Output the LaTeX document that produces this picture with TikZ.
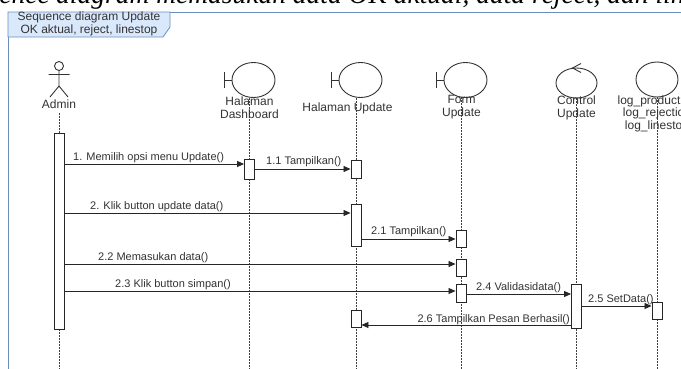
\documentclass[tikz,border=0pt]{standalone}
\usepackage{fontspec}
\setmainfont{Liberation Sans}
\newfontfamily\serifit{Liberation Serif}
\usetikzlibrary{arrows.meta}
\definecolor{framec}{HTML}{6C8EBF}
\definecolor{tabfill}{HTML}{DAE8FC}
\definecolor{txt}{HTML}{333333}
\begin{document}
\begin{tikzpicture}[x=1pt,y=-1pt,
  lbl/.style={font=\fontsize{12}{13}\selectfont, text=txt, align=center, inner sep=0},
  msg/.style={font=\fontsize{11}{12}\selectfont, text=txt, inner sep=0},
  lifeline/.style={draw=black!75, line width=0.9, dash pattern=on 1.5pt off 1.5pt},
  act/.style={draw=black!85, fill=white, line width=0.9, minimum width=10, inner sep=0, rectangle},
  call/.style={draw=black!85, line width=0.8, -{Triangle[length=7,width=6]}},
  shapeline/.style={draw=black!80, line width=0.9},
  captxt/.style={font=\serifit\itshape\fontsize{27.5}{29}\selectfont, inner sep=0}]
\clip (0,0) rectangle (681,368);
\useasboundingbox (0,0) rectangle (681,368);
\fill[white] (0,0) rectangle (681,368);
% clipped document text at top
\node[captxt, anchor=base east] (capA) at (50,3) {Sequence};
\node[captxt, anchor=base west] (capB) at (56,3) {diagram memasukan data OK aktual, data reject, dan linestop};
% frame
\draw[framec, line width=1] (700,12) -- (8,12) -- (8,380);
\draw[framec, fill=tabfill, line width=0.8] (8,12) -- (170,12) -- (170,27) -- (163,37) -- (8,37) -- cycle;
\node[lbl] (title) at (89,24) {Sequence diagram Update\\OK aktual, reject, linestop};
% lifelines
\coordinate (adminTop) at (59,113);
\coordinate (adminBot) at (59,370);
\coordinate (dashTop) at (249.5,98);
\coordinate (dashBot) at (249.5,370);
\coordinate (huTop) at (356,98);
\coordinate (huBot) at (356,370);
\coordinate (formTop) at (461,97);
\coordinate (formBot) at (461,370);
\coordinate (ctrlTop) at (576.5,98);
\coordinate (ctrlBot) at (576.5,370);
\coordinate (logTop) at (657,97);
\coordinate (logBot) at (657,370);
\foreach \a/\b in {adminTop/adminBot,dashTop/dashBot,huTop/huBot,formTop/formBot,ctrlTop/ctrlBot,logTop/logBot}
  \draw[lifeline] (\a) -- (\b);
% actor
\draw[shapeline] (59,66) circle[radius=4.5];
\draw[shapeline] (59,70.5) -- (59,86) (48.5,74.5) -- (69.5,74.5) (50,97) -- (59,86) -- (68,97);
\node[lbl] (admin) at (59,104) {Admin};
% boundaries
\foreach \x in {224,331,436}{
  \draw[shapeline] (\x,72) -- (\x,88) (\x,80) -- (\x+8,80);
  \draw[shapeline] (\x+29.5,80) ellipse[x radius=21.5, y radius=17.5];
}
\node[lbl] (dash) at (249.5,107.5) {Halaman\\Dashboard};
\node[lbl] (hu) at (347.5,108) {Halaman Update};
\node[lbl] (form) at (461.5,107.5) {Form\\Update};
% control
\draw[shapeline] (576.5,83) ellipse[x radius=20.5, y radius=15];
\draw[shapeline] (581,63.5) -- (572.5,68) -- (581,72.5);
\node[lbl] (ctrl) at (576.5,107.5) {Control\\Update};
% entity
\draw[shapeline] (657,79.5) ellipse[x radius=21, y radius=17.5];
\node[lbl, font=\fontsize{12}{12.5}\selectfont] (log) at (657,113.5) {log\_production\\log\_rejection\\log\_linestop};
% activation bars
\node[act, minimum height=196] (a0) at (59,231) {};
\node[act, minimum height=20] (d1) at (249.5,169) {};
\node[act, minimum height=18] (h1) at (356,169) {};
\node[act, minimum height=42] (h2) at (356,225) {};
\node[act, minimum height=17] (h3) at (356,318.5) {};
\node[act, minimum height=17] (f1) at (461,238.5) {};
\node[act, minimum height=17] (f2) at (461,267.5) {};
\node[act, minimum height=18] (f3) at (461,293) {};
\node[act, minimum height=44] (c1) at (576.5,306) {};
\node[act, minimum height=17] (l1) at (657,310.5) {};
% messages
\draw[call] (a0.east |- 0,164) -- (d1.west |- 0,164);
\node[msg, anchor=base west] (m1) at (73,160) {1. Memilih opsi menu Update()};
\draw[call] (d1.east |- 0,169) -- (h1.west |- 0,169);
\node[msg, anchor=base west] (m11) at (266,164) {1.1 Tampilkan()};
\draw[call] (a0.east |- 0,213) -- (h2.west |- 0,213);
\node[msg, anchor=base west] (m2) at (90,209) {2. Klik button update data()};
\draw[call] (h2.east |- 0,239) -- (f1.west |- 0,239);
\node[msg, anchor=base west] (m21) at (371,234) {2.1 Tampilkan()};
\draw[call] (a0.east |- 0,264) -- (f2.west |- 0,264);
\node[msg, anchor=base west] (m22) at (98,260) {2.2 Memasukan data()};
\draw[call] (a0.east |- 0,291) -- (f3.west |- 0,291);
\node[msg, anchor=base west] (m23) at (115,287) {2.3 Klik button simpan()};
\draw[call] (f3.east |- 0,294) -- (c1.west |- 0,294);
\node[msg, anchor=base west] (m24) at (476,290) {2.4 Validasidata()};
\draw[call] (c1.east |- 0,306) -- (l1.west |- 0,306);
\node[msg, anchor=base west] (m25) at (588,302) {2.5 SetData()};
\draw[call] (c1.west |- 0,325) -- (h3.east |- 0,325);
\node[msg, anchor=base east] (m26) at (570,322) {2.6 Tampilkan Pesan Berhasil()};
\end{tikzpicture}
\end{document}
